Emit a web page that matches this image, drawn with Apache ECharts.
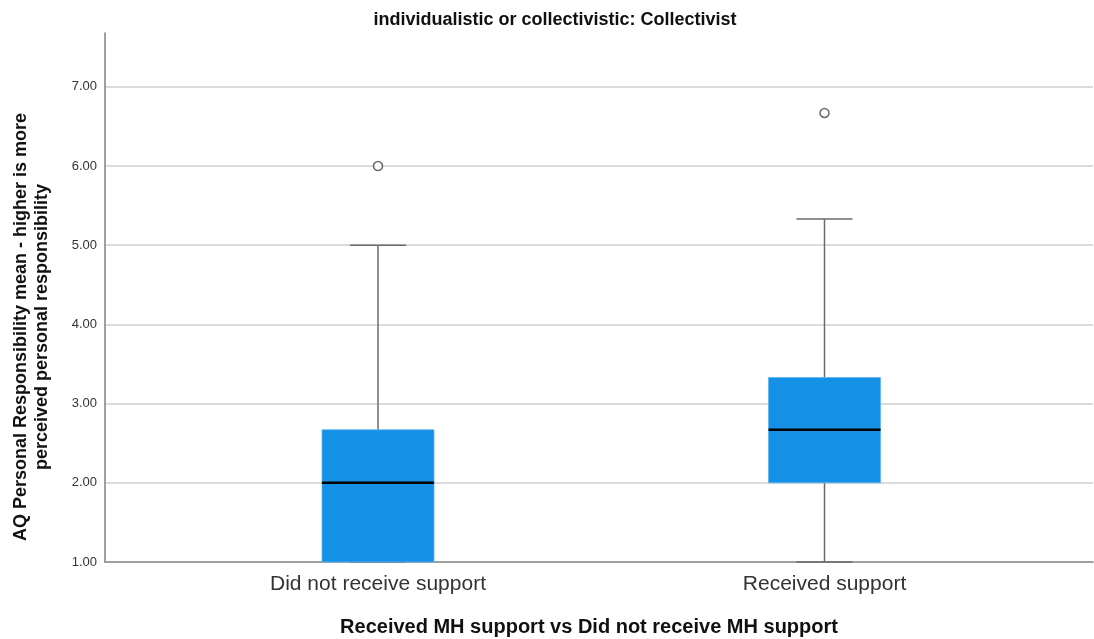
<!DOCTYPE html>
<html>
<head>
<meta charset="utf-8">
<script src="https://cdn.jsdelivr.net/npm/echarts@6/dist/echarts.min.js"></script>
<style>
html,body{margin:0;padding:0;background:#fff;}
#main{width:1094px;height:639px;}
</style>
</head>
<body>
<div id="main"></div>
<script>
// ---- data ----
var categories = ['Did not receive support', 'Received support'];
// [low whisker, Q1, median, Q3, high whisker]
var boxStats = [
  [1.00, 1.00, 2.00, 2.67, 5.00],
  [1.00, 2.00, 2.67, 3.33, 5.33]
];
var outlierCats = [0, 1];
var outlierVals = [6.00, 6.67];
var yTicks = [1, 2, 3, 4, 5, 6, 7];
var chartTitle = 'individualistic or collectivistic: Collectivist';
var xTitle = 'Received MH support vs Did not receive MH support';
var yTitle = 'AQ Personal Responsibility mean - higher is more\nperceived personal responsibility';

var boxData = boxStats.map(function (s, i) { return [i].concat(s); });
var outlierData = outlierCats.map(function (c, i) { return [c, outlierVals[i]]; });

var FONT = '"Liberation Sans", Arial, sans-serif';
var chart = echarts.init(document.getElementById('main'), null, {renderer: 'canvas'});

var yMin = 1, yMax = 7.68;

chart.setOption({
  animation: false,
  backgroundColor: '#fff',
  grid: [
    {left: 105, right: 1, top: 33, bottom: 77},
    {left: 154.75, right: 46.25, top: 33, bottom: 77}
  ],
  xAxis: [
    {
      gridIndex: 0, type: 'value', min: 0, max: 1,
      axisLine: {show: true, onZero: false, lineStyle: {color: '#808080', width: 1.5}},
      axisTick: {show: false}, axisLabel: {show: false}, splitLine: {show: false}
    },
    {
      gridIndex: 1, type: 'category', data: categories, boundaryGap: true,
      axisLine: {show: false}, axisTick: {show: false},
      axisLabel: {show: true, color: '#333', fontSize: 21, fontFamily: FONT, margin: 12}
    }
  ],
  yAxis: [
    {
      gridIndex: 0, type: 'value', min: yMin, max: yMax, interval: 1,
      axisLine: {show: true, lineStyle: {color: '#808080', width: 1.5}},
      axisTick: {show: false},
      axisLabel: {
        color: '#333', fontSize: 13, fontFamily: FONT, margin: 8, showMaxLabel: false,
        formatter: function (v) { return yTicks.indexOf(v) >= 0 ? v.toFixed(2) : ''; }
      },
      splitLine: {show: true, showMinLine: false, showMaxLine: false, lineStyle: {color: '#cfcfcf', width: 1.5}}
    },
    {
      gridIndex: 1, type: 'value', min: yMin, max: yMax, interval: 1,
      axisLine: {show: false}, axisTick: {show: false}, axisLabel: {show: false}, splitLine: {show: false}
    }
  ],
  graphic: [
    {
      type: 'text', x: 555, y: 20,
      style: {text: chartTitle, font: 'bold 18px ' + FONT, fill: '#111', align: 'center', verticalAlign: 'middle'}
    },
    {
      type: 'text', x: 589, y: 627,
      style: {text: xTitle, font: 'bold 20px ' + FONT, fill: '#111', align: 'center', verticalAlign: 'middle'}
    },
    {
      type: 'text', x: 32, y: 327, rotation: Math.PI / 2,
      style: {text: yTitle, font: 'bold 18px ' + FONT, fill: '#111', align: 'center', verticalAlign: 'middle', lineHeight: 21}
    }
  ],
  series: [
    {
      type: 'custom', xAxisIndex: 1, yAxisIndex: 1, data: boxData, z: 3,
      renderItem: function (params, api) {
        var c = api.value(0);
        var lo = api.coord([c, api.value(1)]);
        var q1 = api.coord([c, api.value(2)]);
        var md = api.coord([c, api.value(3)]);
        var q3 = api.coord([c, api.value(4)]);
        var hi = api.coord([c, api.value(5)]);
        var x = lo[0];
        var hw = 56, cw = 28;
        var wStyle = {stroke: '#6b6b6b', lineWidth: 1.5};
        return {
          type: 'group',
          children: [
            {type: 'line', shape: {x1: x, y1: hi[1], x2: x, y2: q3[1]}, style: wStyle},
            {type: 'line', shape: {x1: x, y1: q1[1], x2: x, y2: lo[1]}, style: wStyle},
            {type: 'line', shape: {x1: x - cw, y1: hi[1], x2: x + cw, y2: hi[1]}, style: wStyle},
            {type: 'line', shape: {x1: x - cw, y1: lo[1], x2: x + cw, y2: lo[1]}, style: wStyle},
            {type: 'rect', shape: {x: x - hw, y: q3[1], width: hw * 2, height: q1[1] - q3[1]},
              style: {fill: '#1490e6', stroke: '#5fb3ee', lineWidth: 0.8}},
            {type: 'line', shape: {x1: x - hw, y1: md[1], x2: x + hw, y2: md[1]}, style: {stroke: '#000', lineWidth: 2.5}}
          ]
        };
      }
    },
    {
      type: 'scatter', xAxisIndex: 1, yAxisIndex: 1, data: outlierData, z: 4,
      symbol: 'circle', symbolSize: 9,
      itemStyle: {color: '#fff', borderColor: '#4a4a4a', borderWidth: 1.6}
    }
  ]
});
</script>
</body>
</html>
